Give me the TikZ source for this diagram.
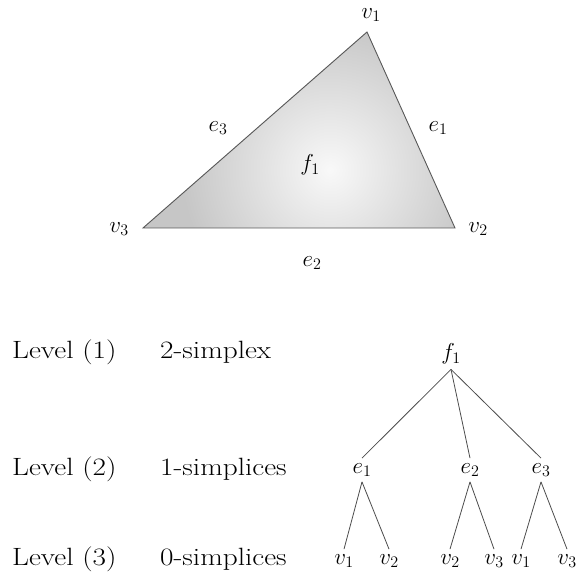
\RequirePackage{fix-cm}
\documentclass[tikz,border=0pt]{standalone}
\newcommand{\wide}[1]{\scalebox{1.17}[1]{#1}}
\begin{document}
\begin{tikzpicture}[x=1pt,y=-1pt,
  lvl/.style={font=\fontsize{25}{29}\selectfont, anchor=west, inner sep=0pt},
  lab/.style={font=\fontsize{23}{27}\selectfont, inner sep=0pt},
  tnode/.style={font=\fontsize{23}{27}\selectfont, inner sep=5pt},
  edge/.style={draw=black!70, line width=0.8pt},
  tri/.style={draw=black!65, line width=0.9pt, line join=miter}]
\useasboundingbox (0,0) rectangle (582,577);
% triangle
\coordinate (A) at (367,32);
\coordinate (B) at (455,228);
\coordinate (C) at (143,228);
\begin{scope}
\clip (A) -- (B) -- (C) -- cycle;
\fill[gray!45] (130,20) rectangle (470,240);
\shade[inner color=gray!5, outer color=gray!45] (330,170) circle (150);
\end{scope}
\draw[tri] (A) -- (B) -- (C) -- cycle;
% triangle labels
\node[lab] (tv1) at (371,15) {$v_1$};
\node[lab] (tv2) at (478,229) {$v_2$};
\node[lab] (tv3) at (119,229) {$v_3$};
\node[lab] (te1) at (438,128) {$e_1$};
\node[lab] (te2) at (312,263) {$e_2$};
\node[lab] (te3) at (218,128) {$e_3$};
\node[lab] (tf1) at (310,165) {$f_1$};
% level texts
\node[lvl] (l1) at (12,352) {\wide{Level (1)}};
\node[lvl] (l2) at (12,469) {\wide{Level (2)}};
\node[lvl] (l3) at (12,559) {\wide{Level (3)}};
\node[lvl] (s1) at (160,352) {\wide{2-simplex}};
\node[lvl] (s2) at (160,469) {\wide{1-simplices}};
\node[lvl] (s3) at (160,559) {\wide{0-simplices}};
% tree
\node[tnode] (f) at (451,354) {$f_1$};
\node[tnode] (e1) at (362,470) {$e_1$};
\node[tnode] (e2) at (470,470) {$e_2$};
\node[tnode] (e3) at (541,470) {$e_3$};
\node[tnode] (a1) at (344,561) {$v_1$};
\node[tnode] (a2) at (389,561) {$v_2$};
\node[tnode] (b1) at (450,561) {$v_2$};
\node[tnode] (b2) at (494,561) {$v_3$};
\node[tnode] (c1) at (521,561) {$v_1$};
\node[tnode] (c2) at (567,561) {$v_3$};
\draw[edge] (f.south) -- (e1.north);
\draw[edge] (f.south) -- (e2.north);
\draw[edge] (f.south) -- (e3.north);
\draw[edge] (e1.south) -- (a1.north);
\draw[edge] (e1.south) -- (a2.north);
\draw[edge] (e2.south) -- (b1.north);
\draw[edge] (e2.south) -- (b2.north);
\draw[edge] (e3.south) -- (c1.north);
\draw[edge] (e3.south) -- (c2.north);
\end{tikzpicture}
\end{document}
